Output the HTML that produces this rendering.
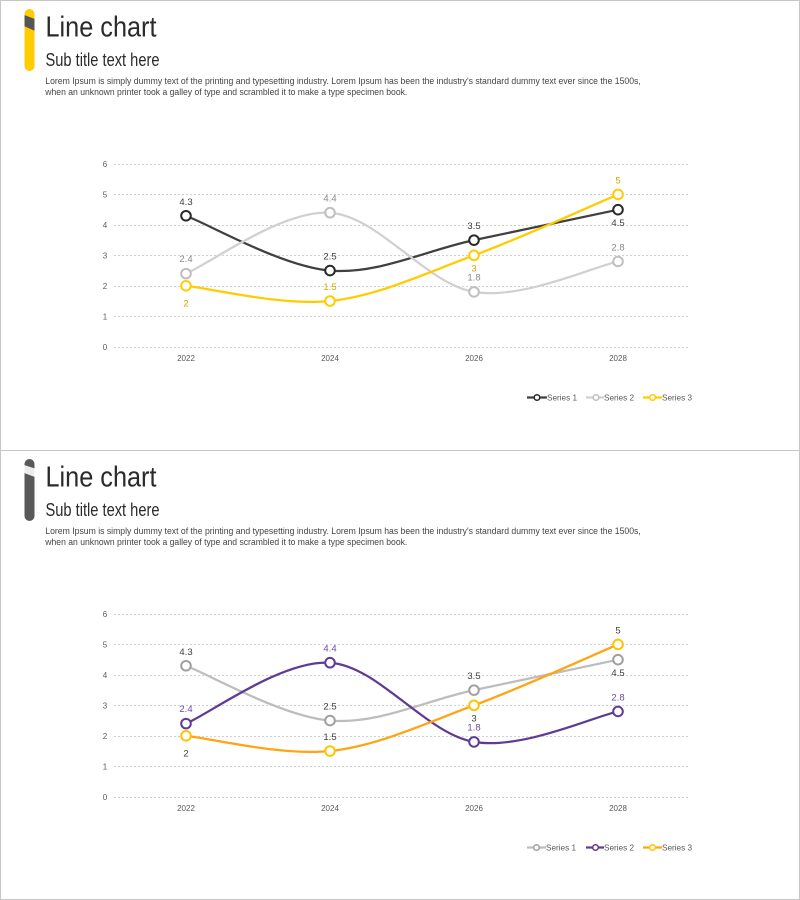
<!DOCTYPE html>
<html><head><meta charset="utf-8"><style>
html,body{margin:0;padding:0;background:#fff;}
svg{display:block;}
text{font-family:"Liberation Sans",sans-serif;}
</style></head><body>
<svg width="800" height="900" viewBox="0 0 800 900" xmlns="http://www.w3.org/2000/svg">
<rect x="0" y="0" width="800" height="900" fill="#fff"/>
<g stroke="#c6c6c6" stroke-width="1" fill="none">
<line x1="0" y1="0.5" x2="800" y2="0.5"/>
<line x1="0.5" y1="0" x2="0.5" y2="900"/>
<line x1="799.5" y1="0" x2="799.5" y2="900"/>
<line x1="0" y1="899.5" x2="800" y2="899.5"/>
<line x1="0" y1="450.5" x2="800" y2="450.5"/>
</g>
<defs>
<clipPath id="bar1"><rect x="24.5" y="9" width="10" height="62" rx="5"/></clipPath>
<clipPath id="bar2"><rect x="24.5" y="459" width="10" height="62" rx="5"/></clipPath>
</defs>
<!-- ===== TOP PANEL ===== -->
<rect x="24.5" y="9" width="10" height="62" rx="5" fill="#FFCC00"/>
<polygon clip-path="url(#bar1)" points="24,15 35,19 35,31 24,26" fill="#555"/>
<text x="45.5" y="36.5" font-size="29" fill="#2a2a2a" textLength="111" lengthAdjust="spacingAndGlyphs">Line chart</text>
<text x="45.5" y="66" font-size="18" fill="#2a2a2a" textLength="114" lengthAdjust="spacingAndGlyphs">Sub title text here</text>
<text x="45.3" y="84" font-size="9.5" fill="#444" textLength="595.5" lengthAdjust="spacingAndGlyphs">Lorem Ipsum is simply dummy text of the printing and typesetting industry. Lorem Ipsum has been the industry's standard dummy text ever since the 1500s,</text>
<text x="45.3" y="95" font-size="9.5" fill="#444" textLength="362" lengthAdjust="spacingAndGlyphs">when an unknown printer took a galley of type and scrambled it to make a type specimen book.</text>

<g stroke="#d0d0d0" stroke-width="1" stroke-dasharray="2,2">
<line x1="114" y1="164.5" x2="690" y2="164.5"/>
<line x1="114" y1="194.5" x2="690" y2="194.5"/>
<line x1="114" y1="225.5" x2="690" y2="225.5"/>
<line x1="114" y1="255.5" x2="690" y2="255.5"/>
<line x1="114" y1="286.5" x2="690" y2="286.5"/>
<line x1="114" y1="316.5" x2="690" y2="316.5"/>
<line x1="114" y1="347.5" x2="690" y2="347.5"/>
</g>
<g font-size="8" fill="#595959" text-anchor="middle">
<text x="105" y="167">6</text><text x="105" y="197.5">5</text><text x="105" y="228">4</text>
<text x="105" y="258.5">3</text><text x="105" y="289">2</text><text x="105" y="319.5">1</text><text x="105" y="350">0</text>
<text x="186" y="361">2022</text><text x="330" y="361">2024</text><text x="474" y="361">2026</text><text x="618" y="361">2028</text>
</g>
<g fill="none" stroke-width="2.25" stroke-linecap="round">
<path stroke="#404040" d="M186,215.76 C210,224.9 282,266.52 330,270.58 C378,274.64 426,250.28 474,240.13 C522,229.98 594,214.75 618,209.67"/>
<path stroke="#d0d0d0" d="M186,273.62 C210,263.47 282,209.67 330,212.72 C378,215.77 426,283.77 474,291.89 C522,300.01 594,266.52 618,261.44"/>
<path stroke="#FFCC00" d="M186,285.8 C210,288.34 282,306.11 330,301.03 C378,295.95 426,273.11 474,255.35 C522,237.59 594,204.6 618,194.45"/>
</g>
<g fill="#fff" stroke-width="2">
<g stroke="#2a2a2a"><circle cx="186" cy="215.76" r="4.8"/><circle cx="330" cy="270.58" r="4.8"/><circle cx="474" cy="240.13" r="4.8"/><circle cx="618" cy="209.67" r="4.8"/></g>
<g stroke="#bfbfbf"><circle cx="186" cy="273.62" r="4.8"/><circle cx="330" cy="212.72" r="4.8"/><circle cx="474" cy="291.89" r="4.8"/><circle cx="618" cy="261.44" r="4.8"/></g>
<g stroke="#FFCC00"><circle cx="186" cy="285.8" r="4.8"/><circle cx="330" cy="301.03" r="4.8"/><circle cx="474" cy="255.35" r="4.8"/><circle cx="618" cy="194.45" r="4.8"/></g>
</g>
<g font-size="9.5" text-anchor="middle">
<g fill="#404040"><text x="186" y="205.2">4.3</text><text x="330" y="259.5">2.5</text><text x="474" y="229.2">3.5</text><text x="618" y="226.2">4.5</text></g>
<g fill="#8a8a8a"><text x="186" y="262.2">2.4</text><text x="330" y="201.5">4.4</text><text x="474" y="280.5">1.8</text><text x="618" y="250.5">2.8</text></g>
<g fill="#D4A800"><text x="186" y="306.5">2</text><text x="330" y="290.2">1.5</text><text x="474" y="271.5">3</text><text x="618" y="183.5">5</text></g>
</g>
<g font-size="8.2" fill="#595959">
<line x1="527" y1="397.5" x2="547" y2="397.5" stroke="#404040" stroke-width="2.25"/>
<circle cx="537" cy="397.5" r="2.8" fill="#fff" stroke="#2a2a2a" stroke-width="1.5"/>
<text x="547" y="400.5">Series 1</text>
<line x1="586" y1="397.5" x2="604" y2="397.5" stroke="#d0d0d0" stroke-width="2.25"/>
<circle cx="596" cy="397.5" r="2.8" fill="#fff" stroke="#bfbfbf" stroke-width="1.5"/>
<text x="604" y="400.5">Series 2</text>
<line x1="643" y1="397.5" x2="662" y2="397.5" stroke="#FFCC00" stroke-width="2.25"/>
<circle cx="652.5" cy="397.5" r="2.8" fill="#fff" stroke="#FFCC00" stroke-width="1.5"/>
<text x="662" y="400.5">Series 3</text>
</g>

<!-- ===== BOTTOM PANEL ===== -->
<rect x="24.5" y="459" width="10" height="62" rx="5" fill="#595959"/>
<polygon clip-path="url(#bar2)" points="24,465 35,468.5 35,477 24,473" fill="#ececec"/>
<text x="45.5" y="486.5" font-size="29" fill="#2a2a2a" textLength="111" lengthAdjust="spacingAndGlyphs">Line chart</text>
<text x="45.5" y="516" font-size="18" fill="#2a2a2a" textLength="114" lengthAdjust="spacingAndGlyphs">Sub title text here</text>
<text x="45.3" y="534" font-size="9.5" fill="#444" textLength="595.5" lengthAdjust="spacingAndGlyphs">Lorem Ipsum is simply dummy text of the printing and typesetting industry. Lorem Ipsum has been the industry's standard dummy text ever since the 1500s,</text>
<text x="45.3" y="545" font-size="9.5" fill="#444" textLength="362" lengthAdjust="spacingAndGlyphs">when an unknown printer took a galley of type and scrambled it to make a type specimen book.</text>

<g transform="translate(0,450)">
<g stroke="#d0d0d0" stroke-width="1" stroke-dasharray="2,2">
<line x1="114" y1="164.5" x2="690" y2="164.5"/>
<line x1="114" y1="194.5" x2="690" y2="194.5"/>
<line x1="114" y1="225.5" x2="690" y2="225.5"/>
<line x1="114" y1="255.5" x2="690" y2="255.5"/>
<line x1="114" y1="286.5" x2="690" y2="286.5"/>
<line x1="114" y1="316.5" x2="690" y2="316.5"/>
<line x1="114" y1="347.5" x2="690" y2="347.5"/>
</g>
<g font-size="8" fill="#595959" text-anchor="middle">
<text x="105" y="167">6</text><text x="105" y="197.5">5</text><text x="105" y="228">4</text>
<text x="105" y="258.5">3</text><text x="105" y="289">2</text><text x="105" y="319.5">1</text><text x="105" y="350">0</text>
<text x="186" y="361">2022</text><text x="330" y="361">2024</text><text x="474" y="361">2026</text><text x="618" y="361">2028</text>
</g>
<g fill="none" stroke-width="2.25" stroke-linecap="round">
<path stroke="#bdbdbd" d="M186,215.76 C210,224.9 282,266.52 330,270.58 C378,274.64 426,250.28 474,240.13 C522,229.98 594,214.75 618,209.67"/>
<path stroke="#5E3C96" d="M186,273.62 C210,263.47 282,209.67 330,212.72 C378,215.77 426,283.77 474,291.89 C522,300.01 594,266.52 618,261.44"/>
<path stroke="#FFA412" d="M186,285.8 C210,288.34 282,306.11 330,301.03 C378,295.95 426,273.11 474,255.35 C522,237.59 594,204.6 618,194.45"/>
</g>
<g fill="#fff" stroke-width="2">
<g stroke="#a0a0a0"><circle cx="186" cy="215.76" r="4.8"/><circle cx="330" cy="270.58" r="4.8"/><circle cx="474" cy="240.13" r="4.8"/><circle cx="618" cy="209.67" r="4.8"/></g>
<g stroke="#5E3C96"><circle cx="186" cy="273.62" r="4.8"/><circle cx="330" cy="212.72" r="4.8"/><circle cx="474" cy="291.89" r="4.8"/><circle cx="618" cy="261.44" r="4.8"/></g>
<g stroke="#FFC400"><circle cx="186" cy="285.8" r="4.8"/><circle cx="330" cy="301.03" r="4.8"/><circle cx="474" cy="255.35" r="4.8"/><circle cx="618" cy="194.45" r="4.8"/></g>
</g>
<g font-size="9.5" text-anchor="middle">
<g fill="#404040"><text x="186" y="205.2">4.3</text><text x="330" y="259.5">2.5</text><text x="474" y="229.2">3.5</text><text x="618" y="226.2">4.5</text></g>
<g fill="#6A4C9C"><text x="186" y="262.2">2.4</text><text x="330" y="201.5">4.4</text><text x="474" y="280.5">1.8</text><text x="618" y="250.5">2.8</text></g>
<g fill="#404040"><text x="186" y="306.5">2</text><text x="330" y="290.2">1.5</text><text x="474" y="271.5">3</text><text x="618" y="183.5">5</text></g>
</g>
<g font-size="8.2" fill="#595959">
<line x1="527" y1="397.5" x2="546" y2="397.5" stroke="#bdbdbd" stroke-width="2.25"/>
<circle cx="536.5" cy="397.5" r="2.8" fill="#fff" stroke="#a0a0a0" stroke-width="1.5"/>
<text x="546" y="400.5">Series 1</text>
<line x1="586" y1="397.5" x2="604" y2="397.5" stroke="#5E3C96" stroke-width="2.25"/>
<circle cx="595.5" cy="397.5" r="2.8" fill="#fff" stroke="#5E3C96" stroke-width="1.5"/>
<text x="604" y="400.5">Series 2</text>
<line x1="643" y1="397.5" x2="662" y2="397.5" stroke="#FFA412" stroke-width="2.25"/>
<circle cx="652.5" cy="397.5" r="2.8" fill="#fff" stroke="#FFC400" stroke-width="1.5"/>
<text x="662" y="400.5">Series 3</text>
</g>
</g>
</svg>
</body></html>
